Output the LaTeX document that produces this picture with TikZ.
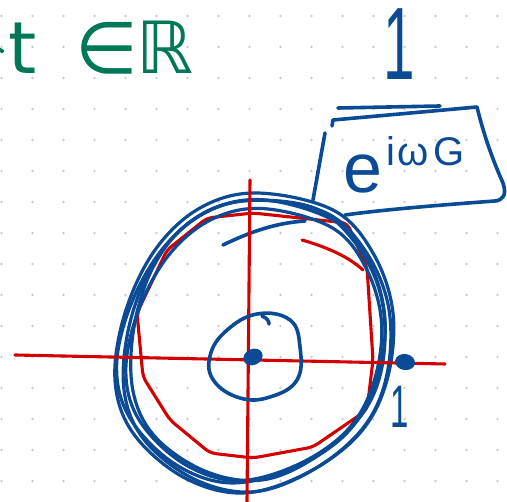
\documentclass[tikz,border=0pt]{standalone}
\usepackage{fontspec}
\setmainfont{Liberation Sans}
\newfontfamily\symsans{DejaVu Sans}
\usetikzlibrary{calc}
\definecolor{penBlue}{HTML}{0B4A94}
\definecolor{penRed}{HTML}{D40000}
\definecolor{penGreen}{HTML}{007858}
\definecolor{gridDot}{HTML}{CDCDCD}
\newcommand{\bigfont}[1]{\fontsize{#1}{#1}\selectfont}
\newcommand{\thinone}[1]{\scalebox{0.55}[1]{\bigfont{#1}1}}

\begin{document}
\begin{tikzpicture}[x=1pt,y=1pt,
    bpen/.style={draw=penBlue,line width=3.6pt,line cap=round,line join=round},
    rpen/.style={draw=penRed,line width=3.1pt,line cap=round,line join=round},
    lbl/.style={inner sep=0pt,outer sep=0pt}]

\useasboundingbox (0,0) rectangle (507,-502);
\fill[white] (0,0) rectangle (507,-502);

% ======================= dotted paper =================================================
\foreach \i in {0,...,16}
  \foreach \j in {0,...,15}
    \fill[gridDot] (1.5+31*\i,-16-31*\j) circle (1.3);

% ======================= heading in green =============================================
\draw[penGreen,line width=4pt,line cap=round] (0,-50) -- (2,-51);
\node[lbl,anchor=base west,text=penGreen] (tset) at (9,-74)
  {\symsans\bigfont{72}t\hspace{38pt}∈\hspace{-1pt}ℝ};

% ======================= unit circle, red =============================================
\coordinate (o) at (254,-343);
\draw[rpen,rounded corners=6pt] (207,-218) -- (253,-213) -- (347,-223) -- (367,-267)
  -- (373,-360) -- (367,-410) -- (313,-447) -- (253,-458) -- (210,-453) -- (170,-420)
  -- (143,-377) -- (137,-313) -- (167,-250) -- cycle;
\draw[rpen] (302,-240) .. controls (330,-248) and (350,-258) .. (363,-270);

% ======================= loops, blue ==================================================
\foreach \s/\dx/\dy/\r in {1/0/0/0, 0.97/2/-3/4, 0.95/-3/1/-5, 0.93/3/3/8, 0.91/0/-2/-3}{
  \begin{scope}[shift={(\dx,\dy)},rotate around={\r:(o)},scale around={\s:(o)}]
    \draw[bpen,line width=3.2pt] plot[smooth cycle,tension=0.6] coordinates {
      (257,-193) (333,-210) (373,-253) (393,-313) (387,-380) (360,-433) (307,-473)
      (243,-493) (183,-477) (133,-433) (115,-380) (125,-313) (155,-250) (200,-208)};
  \end{scope}}
\draw[bpen] (223,-245) .. controls (250,-232) and (275,-223) .. (305,-221);

% ======================= axes =========================================================
\draw[rpen] (15,-355) -- (445,-364);
\draw[rpen] (250,-180) -- (247,-502);

% ======================= small loop and points ========================================
\draw[bpen] plot[smooth cycle,tension=0.7] coordinates {
  (257,-314) (290,-320) (300,-347) (297,-380) (270,-397) (240,-398) (214,-381)
  (210,-356) (226,-331)};
\draw[bpen] (262,-316) .. controls (267,-318) and (269,-321) .. (269,-324);
\fill[penBlue,rotate around={25:(253,-357)}] (253,-357) ellipse [x radius=10,y radius=8];
\coordinate (p1) at (405,-362);
\fill[penBlue,rotate around={-10:(p1)}] (p1) ellipse [x radius=10,y radius=8];
\node[lbl,anchor=base,text=penBlue] (unit) at (400,-428) {\thinone{60}};

% ======================= fraction 1 / e^{i w G} ======================================
\node[lbl,anchor=base,text=penBlue] (numer) at (399,-80) {\thinone{103}};
\draw[bpen] (338,-108) -- (440,-106);
\draw[bpen] (332,-126) -- (333,-120) -- (477,-107)
  .. controls (485,-140) and (495,-165) .. (503,-183)
  .. controls (507,-195) and (503,-200) .. (495,-201)
  .. controls (440,-205) and (380,-210) .. (345,-215);
\draw[bpen] (325,-133) -- (313,-200);
\node[lbl,anchor=base west,text=penBlue] (denom) at (343,-193)
  {\bigfont{70}e\hspace{5pt}\raisebox{27pt}{\bigfont{40}i\hspace{2pt}ω\hspace{4pt}G}};

\end{tikzpicture}
\end{document}
